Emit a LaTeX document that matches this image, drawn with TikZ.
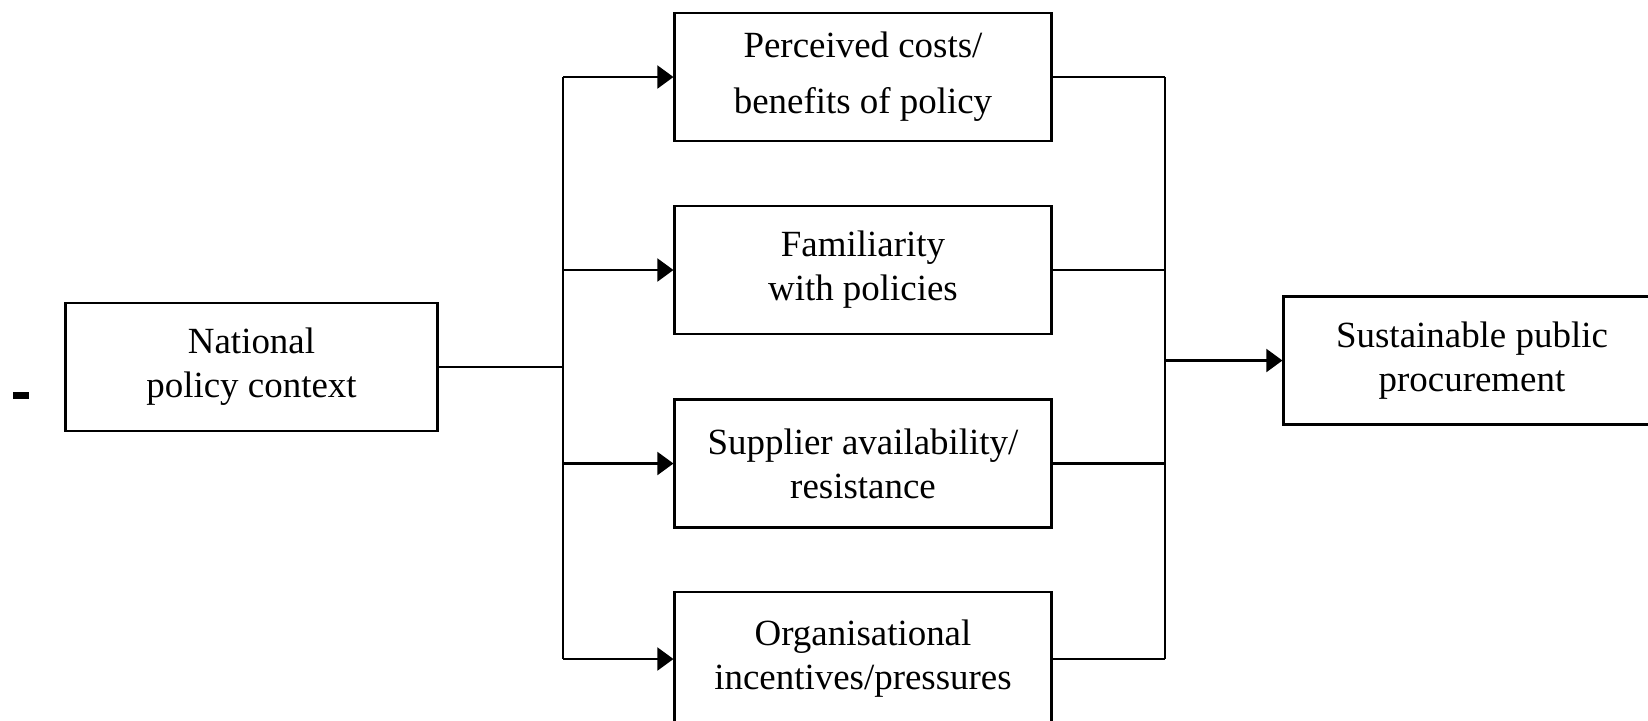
\documentclass[tikz,border=0pt]{standalone}
\usepackage{fontspec}
\setmainfont{Liberation Serif}
\usepackage{tikz}
\usetikzlibrary{arrows.meta}
\tikzset{>=Stealth}
\usetikzlibrary{positioning,arrows}

\newcommand{\unitlen}{pt*0.28453}
\tikzset{
    factor/.style={draw,line width=0.8pt,minimum width=376\unitlen,minimum height=128\unitlen,align=center,inner sep=0pt,font=\fontsize{10.5}{12.5}\selectfont},
    link/.style={line width=0.8pt,-{Triangle[length=4.6pt,width=6.5pt]}},
    plain/.style={line width=0.8pt}
}

\begin{document}
\begin{tikzpicture}[x=0.01cm,y=-0.01cm]
    \useasboundingbox (0,0) rectangle (1648,720);
    \node[fill,minimum width=16\unitlen,minimum height=7\unitlen,inner sep=0pt] at (21,395) (dash) {};
    \node[factor,minimum width=371\unitlen] at (251.5,367) (national) {National\\policy context};
    \node[factor,font=\fontsize{10.5}{16}\selectfont] at (863,77) (costs) {Perceived costs/\\benefits of policy};
    \node[factor] at (863,270) (familiar) {Familiarity\\with policies};
    \node[factor] at (863,463.5) (supplier) {Supplier availability/\\resistance};
    \node[factor,minimum height=134\unitlen] at (863,659) (incentive) {Organisational\\incentives/pressures};
    \node[factor] at (1472,360.5) (spp) {Sustainable public\\procurement};
    \coordinate (split) at (563,367);
    \coordinate (join) at (1165,360.5);
    \draw[plain] (national) -- (split);
    \draw[plain] (split |- costs) -- (split |- incentive);
    \draw[plain] (join |- costs) -- (join |- incentive);
    \path[link]
    (split |- costs) edge (costs)
    (split |- familiar) edge (familiar)
    (split |- supplier) edge (supplier)
    (split |- incentive) edge (incentive)
    (join) edge (spp)
    ;
    \path[plain]
    (costs) edge (join |- costs)
    (familiar) edge (join |- familiar)
    (supplier) edge (join |- supplier)
    (incentive) edge (join |- incentive)
    ;
\end{tikzpicture}
\end{document}
